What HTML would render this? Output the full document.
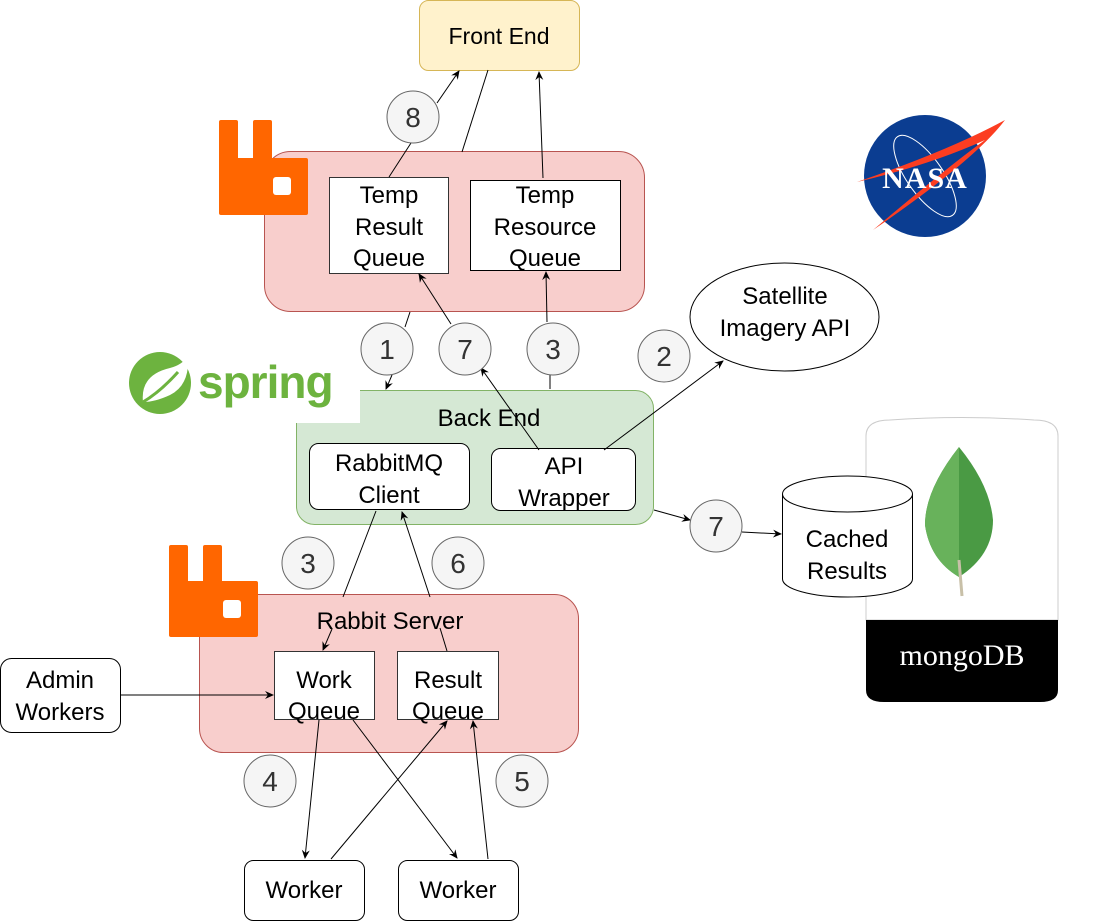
<!DOCTYPE html>
<html><head><meta charset="utf-8"><style>
html,body{margin:0;padding:0;background:#fff;}
svg{display:block;}
text{font-family:"Liberation Sans",Arial,sans-serif;}
</style></head><body>
<svg width="1112" height="922" viewBox="0 0 1112 922" xmlns="http://www.w3.org/2000/svg">
<defs>
<marker id="a" markerWidth="10" markerHeight="10" refX="8" refY="5" orient="auto" markerUnits="userSpaceOnUse">
<path d="M0,1 L9,5 L0,9 L3,5 Z" fill="#000"/>
</marker>
</defs>

<rect x="419.5" y="0.5" width="160" height="70" rx="9" fill="#fff2cc" stroke="#d6b656"/>
<text x="499" y="44" font-size="23" text-anchor="middle">Front End</text>

<rect x="264.5" y="151.5" width="380" height="160" rx="26" fill="#f8cecc" stroke="#b85450"/>
<g fill="#ff6600">
<rect x="219" y="120" width="19" height="50" rx="2"/>
<rect x="253" y="120" width="19" height="50" rx="2"/>
<rect x="219" y="158" width="89" height="57" rx="2"/>
</g>
<rect x="273" y="177" width="18" height="18" rx="3" fill="#fff"/>

<rect x="329.5" y="177.5" width="119" height="96" fill="#fff" stroke="#333"/>
<text font-size="24" text-anchor="middle"><tspan x="389" y="203">Temp</tspan><tspan x="389" y="235">Result</tspan><tspan x="389" y="266">Queue</tspan></text>
<rect x="470.5" y="180.5" width="150" height="90" fill="#fff" stroke="#000"/>
<text font-size="24" text-anchor="middle"><tspan x="545" y="203">Temp</tspan><tspan x="545" y="235">Resource</tspan><tspan x="545" y="266">Queue</tspan></text>

<circle cx="925" cy="176" r="61" fill="#0b3d91"/>
<ellipse cx="925" cy="176" rx="48" ry="18" fill="none" stroke="#fff" stroke-width="1" transform="rotate(55 925 176)"/>
<path d="M857,182 Q950,150 1005,120 Q975,160 873,230 Q950,165 985,140 Q930,165 857,182Z" fill="#fc3d21"/>
<text x="925" y="188" font-size="30" font-weight="bold" fill="#fff" text-anchor="middle" style="font-family:'Liberation Serif',serif" letter-spacing="1">NASA</text>

<ellipse cx="784.5" cy="317" rx="94.5" ry="54" fill="#fff" stroke="#000"/>
<text font-size="24" text-anchor="middle"><tspan x="785" y="304">Satellite</tspan><tspan x="785" y="336">Imagery API</tspan></text>

<rect x="296.5" y="390.5" width="357" height="134" rx="18" fill="#d5e8d4" stroke="#82b366"/>
<rect x="110" y="336" width="250" height="87" fill="#fff"/>
<text x="489" y="426" font-size="24" text-anchor="middle">Back End</text>
<rect x="309.5" y="443.5" width="160" height="66" rx="9" fill="#fff" stroke="#000"/>
<text font-size="24" text-anchor="middle"><tspan x="389" y="471">RabbitMQ</tspan><tspan x="389" y="503">Client</tspan></text>
<rect x="491.5" y="448.5" width="144" height="62" rx="9" fill="#fff" stroke="#000"/>
<text font-size="24" text-anchor="middle"><tspan x="564" y="474">API</tspan><tspan x="564" y="506">Wrapper</tspan></text>

<circle cx="160" cy="383" r="31" fill="#6db33f"/>
<path d="M143,402 Q140,375 170,368 Q182,365 188,356 Q190,385 170,395 Q155,402 143,402Z" fill="#fff"/>
<path d="M143,402 Q160,392 178,372" stroke="#6db33f" stroke-width="3" fill="none"/>
<text x="198" y="398" font-size="46" font-weight="bold" fill="#6db33f" letter-spacing="-1">spring</text>

<path d="M866,436 Q866,420 890,420 Q962,415 1034,420 Q1058,420 1058,436 L1058,620 L866,620Z" fill="#fff" stroke="#ccc"/>
<path d="M866,620 L1058,620 L1058,690 Q1058,702 1040,702 L884,702 Q866,702 866,690Z" fill="#000"/>
<text x="962" y="665" font-size="30" fill="#fff" text-anchor="middle" style="font-family:'Liberation Serif',serif">mongoDB</text>
<path d="M959,447 Q925,490 925,525 Q930,560 959,577 Q993,555 993,520 Q990,485 959,447Z" fill="#4a9a44"/>
<path d="M959,447 Q925,490 925,525 Q930,560 959,577Z" fill="#68b25b"/>
<path d="M959,560 L962,596" stroke="#c8c0a8" stroke-width="3"/>
<path d="M782.5,494 L782.5,579 A65,18 0 0 0 912.5,579 L912.5,494" fill="#fff" stroke="#000"/>
<ellipse cx="847.5" cy="494" rx="65" ry="18" fill="#fff" stroke="#000"/>
<text font-size="24" text-anchor="middle"><tspan x="847" y="547">Cached</tspan><tspan x="847" y="579">Results</tspan></text>

<rect x="199.5" y="594.5" width="379" height="158" rx="24" fill="#f8cecc" stroke="#b85450"/>
<g fill="#ff6600">
<rect x="169" y="545" width="19" height="50" rx="2"/>
<rect x="203" y="545" width="19" height="50" rx="2"/>
<rect x="169" y="581" width="89" height="56" rx="2"/>
</g>
<rect x="223" y="600" width="18" height="18" rx="3" fill="#fff"/>
<text x="390" y="629" font-size="24" text-anchor="middle">Rabbit Server</text>
<rect x="274.5" y="651.5" width="100" height="68" fill="#fff" stroke="#333"/>
<text font-size="24" text-anchor="middle"><tspan x="324" y="688">Work</tspan><tspan x="324" y="719">Queue</tspan></text>
<rect x="397.5" y="651.5" width="101" height="68" fill="#fff" stroke="#333"/>
<text font-size="24" text-anchor="middle"><tspan x="448" y="688">Result</tspan><tspan x="448" y="719">Queue</tspan></text>

<rect x="0.5" y="658.5" width="120" height="74" rx="11" fill="#fff" stroke="#000"/>
<text font-size="24" text-anchor="middle"><tspan x="60" y="688">Admin</tspan><tspan x="60" y="720">Workers</tspan></text>

<rect x="244.5" y="860.5" width="120" height="60" rx="9" fill="#fff" stroke="#000"/>
<text x="304" y="898" font-size="24" text-anchor="middle">Worker</text>
<rect x="398.5" y="860.5" width="120" height="60" rx="9" fill="#fff" stroke="#000"/>
<text x="458" y="898" font-size="24" text-anchor="middle">Worker</text>

<g stroke="#000" stroke-width="1" fill="none">
<line x1="437" y1="103" x2="459" y2="71" marker-end="url(#a)"/>
<line x1="389" y1="177" x2="411" y2="143"/>
<line x1="462" y1="152" x2="488" y2="70"/>
<line x1="543" y1="178" x2="539" y2="72" marker-end="url(#a)"/>
<line x1="410" y1="312" x2="405" y2="327"/>
<line x1="392" y1="375" x2="386" y2="389" marker-end="url(#a)"/>
<line x1="539" y1="450" x2="481" y2="368" marker-end="url(#a)"/>
<line x1="451" y1="324" x2="419" y2="274" marker-end="url(#a)"/>
<line x1="547" y1="322" x2="546" y2="272" marker-end="url(#a)"/>
<line x1="550" y1="375" x2="550" y2="389"/>
<line x1="604" y1="450" x2="723" y2="361" marker-end="url(#a)"/>
<line x1="654" y1="510" x2="690" y2="520" marker-end="url(#a)"/>
<line x1="742" y1="532" x2="781" y2="534" marker-end="url(#a)"/>
<line x1="376" y1="511" x2="343" y2="597"/>
<line x1="332" y1="629" x2="323" y2="650" marker-end="url(#a)"/>
<line x1="447" y1="651" x2="440" y2="628"/>
<line x1="430" y1="597" x2="402" y2="512" marker-end="url(#a)"/>
<line x1="120" y1="695" x2="273" y2="695" marker-end="url(#a)"/>
<line x1="319" y1="720" x2="305" y2="858" marker-end="url(#a)"/>
<line x1="353" y1="720" x2="457" y2="858" marker-end="url(#a)"/>
<line x1="331" y1="859" x2="447" y2="721" marker-end="url(#a)"/>
<line x1="488" y1="859" x2="473" y2="721" marker-end="url(#a)"/>
</g>

<g fill="#f5f5f5" stroke="#666">
<circle cx="413" cy="117" r="26"/>
<circle cx="387" cy="349" r="26"/>
<circle cx="465" cy="349" r="26"/>
<circle cx="553" cy="349" r="26"/>
<circle cx="664" cy="356" r="26"/>
<circle cx="716" cy="526" r="26"/>
<circle cx="308" cy="563" r="26"/>
<circle cx="458" cy="563" r="26"/>
<circle cx="270" cy="781" r="26"/>
<circle cx="522" cy="781" r="26"/>
</g>
<g font-size="28" fill="#333" text-anchor="middle">
<text x="413" y="127">8</text>
<text x="387" y="359">1</text>
<text x="465" y="359">7</text>
<text x="553" y="359">3</text>
<text x="664" y="366">2</text>
<text x="716" y="536">7</text>
<text x="308" y="573">3</text>
<text x="458" y="573">6</text>
<text x="270" y="791">4</text>
<text x="522" y="791">5</text>
</g>
</svg>
</body></html>
